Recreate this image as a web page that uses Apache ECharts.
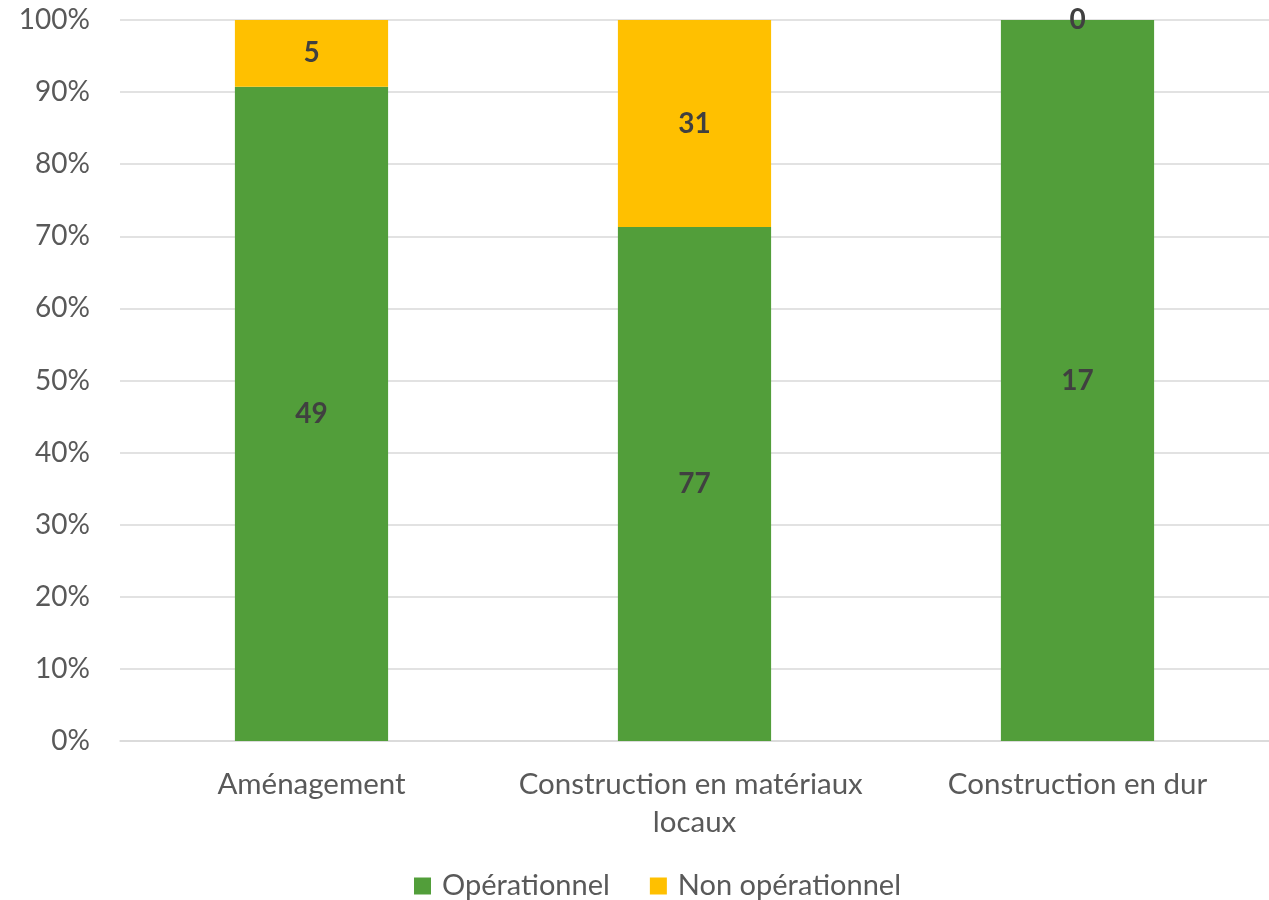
<!DOCTYPE html>
<html><head><meta charset="utf-8">
<script src="https://cdn.jsdelivr.net/npm/echarts@6/dist/echarts.min.js"></script>
<style>html,body{margin:0;padding:0;background:#fff}#c{width:1269px;height:900px}</style>
</head><body><div id="c"></div>
<script>
const categories = ['Aménagement', 'Construction en matériaux locaux', 'Construction en dur'];
const operationnel = [49, 77, 17];
const nonOperationnel = [5, 31, 0];
const seriesNames = ['Opérationnel', 'Non opérationnel'];
const colors = ['#529E3A', '#FFC000'];

const totals = categories.map((_, i) => operationnel[i] + nonOperationnel[i]);
const pct = arr => arr.map((v, i) => v / totals[i] * 100);
const FONT = 'Lato';

const labelCfg = (raw) => ({
  show: true, position: 'inside', fontFamily: FONT, fontWeight: 'bold', fontSize: 28, color: '#404040',
  formatter: p => String(raw[p.dataIndex])
});

const chart = echarts.init(document.getElementById('c'));
chart.setOption({
  animation: false,
  textStyle: { fontFamily: FONT },
  grid: { left: 120, right: 0, top: 20, bottom: 159, containLabel: false, outerBoundsMode: 'none' },
  legend: {
    top: 866, left: 409, itemWidth: 17, itemHeight: 17, itemGap: 40,
    icon: 'rect',
    textStyle: { fontFamily: FONT, fontSize: 29, lineHeight: 30, color: '#595959', padding: [0, 0, 0, 6] },
    data: seriesNames
  },
  xAxis: {
    type: 'category', data: categories,
    axisLine: { lineStyle: { color: '#D9D9D9', width: 1.5 } },
    axisTick: { show: false },
    axisLabel: { fontFamily: FONT, fontSize: 29.5, color: '#595959', margin: 24, lineHeight: 38, width: 370, overflow: 'break', interval: 0 }
  },
  yAxis: {
    type: 'value', min: 0, max: 100, interval: 10,
    axisLine: { show: false }, axisTick: { show: false },
    splitLine: { lineStyle: { color: '#D9D9D9', width: 1.5 } },
    axisLabel: { fontFamily: FONT, fontSize: 28, color: '#595959', margin: 30, formatter: '{value}%' }
  },
  series: [
    { name: seriesNames[0], type: 'bar', stack: 's', barWidth: '40%', data: pct(operationnel),
      itemStyle: { color: colors[0] }, label: labelCfg(operationnel) },
    { name: seriesNames[1], type: 'bar', stack: 's', barWidth: '40%', data: pct(nonOperationnel),
      itemStyle: { color: colors[1] }, label: labelCfg(nonOperationnel) }
  ]
});
</script></body></html>
